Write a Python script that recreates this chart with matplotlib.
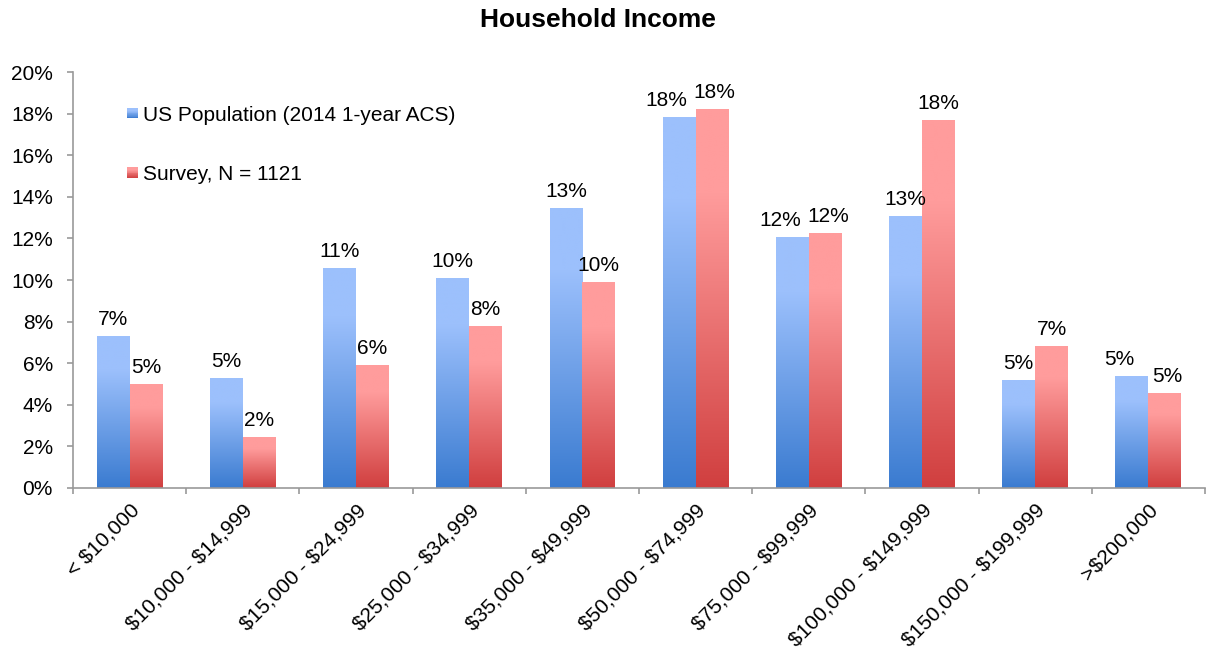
import numpy as np
import matplotlib
matplotlib.use('Agg')
import matplotlib.pyplot as plt
from matplotlib.colors import LinearSegmentedColormap
from matplotlib.patches import Rectangle
from matplotlib.legend_handler import HandlerBase

# Data (percent of households)
categories = ['< $10,000', '$10,000 - $14,999', '$15,000 - $24,999',
              '$25,000 - $34,999', '$35,000 - $49,999', '$50,000 - $74,999',
              '$75,000 - $99,999', '$100,000 - $149,999', '$150,000 - $199,999',
              '>$200,000']
us_pop = [7.31, 5.29, 10.58, 10.1, 13.45, 17.84, 12.07, 13.06, 5.19, 5.38]
survey = [5.0, 2.45, 5.91, 7.79, 9.9, 18.22, 12.26, 17.69, 6.83, 4.57]
series_names = ['US Population (2014 1-year ACS)', 'Survey, N = 1121']

plt.rcParams['font.family'] = ['Liberation Sans', 'DejaVu Sans']
plt.rcParams['text.parse_math'] = False

blue_light, blue_dark = '#9cc0fc', '#3a7bd0'
red_light, red_dark = '#ff9c9c', '#d03f3f'

# top of bar light, bottom dark; flat light band at the top
def ramp(light, dark):
    return LinearSegmentedColormap.from_list('g', [(0.0, light), (0.22, light), (1.0, dark)])

cmaps = [ramp(blue_light, blue_dark), ramp(red_light, red_dark)]
grad = np.linspace(0, 1, 256).reshape(-1, 1)

fig = plt.figure(figsize=(12.21, 6.62), dpi=100, facecolor='white')
ax = fig.add_axes([0.0598, 0.263, 0.927, 0.628])

fs = 15
x = np.arange(len(categories))
w = 0.29
axis_grey = '#999999'

for k, (vals, other, off, cm) in enumerate(((us_pop, survey, -w / 2, cmaps[0]),
                                             (survey, us_pop, w / 2, cmaps[1]))):
    bars = ax.bar(x + off, vals, w, facecolor='none', edgecolor='none', zorder=2)
    for b, v, o in zip(bars, vals, other):
        x0 = b.get_x()
        im = ax.imshow(grad, cmap=cm, aspect='auto', origin='upper',
                       extent=(x0, x0 + w, 0, v), zorder=2, interpolation='bilinear')
        im.set_clip_path(b)
        # push the pair of labels apart when they sit at nearly the same height
        dx = 0
        if abs(v - o) < 1.2:
            dx = -9 if k == 0 else 2
        ax.annotate('%d%%' % int(round(v)), (x0 + w / 2, v), xytext=(dx, 5),
                    textcoords='offset points', ha='center', va='bottom',
                    fontsize=fs, color='black', zorder=3)

ax.set_xlim(-0.5, len(categories) - 0.5)
ax.set_ylim(0, 20)
ax.set_yticks(np.arange(0, 21, 2))
ax.set_yticklabels(['%d%%' % t for t in range(0, 21, 2)], fontsize=fs)
ax.set_xticks(x)
ax.set_xticklabels(categories, rotation=45, ha='right', rotation_mode='anchor', fontsize=fs)
ax.set_xticks(np.arange(-0.5, len(categories) + 0.5, 1), minor=True)
ax.tick_params(axis='x', which='major', length=0, pad=9)
ax.tick_params(axis='x', which='minor', length=4.5, color=axis_grey, width=1.2, direction='out')
ax.tick_params(axis='y', length=4.5, color=axis_grey, width=1.2, pad=10)

for s in ('top', 'right'):
    ax.spines[s].set_visible(False)
for s in ('left', 'bottom'):
    ax.spines[s].set_color(axis_grey)
    ax.spines[s].set_linewidth(1.2)


class GradHandler(HandlerBase):
    def __init__(self, light, dark):
        super().__init__()
        self.light, self.dark = light, dark

    def create_artists(self, legend, orig_handle, xdescent, ydescent, width, height, fontsize, trans):
        cm = ramp(self.light, self.dark)
        n = 12
        arts = []
        for i in range(n):
            c = cm(1 - (i + 0.5) / n)
            arts.append(Rectangle((-xdescent, -ydescent + height * i / n), width, height / n + 0.2,
                                  facecolor=c, edgecolor='none', transform=trans))
        return arts


h1 = Rectangle((0, 0), 1, 1)
h2 = Rectangle((0, 0), 1, 1)
ax.legend([h1, h2], series_names, loc='upper left', bbox_to_anchor=(0.040, 0.939),
          frameon=False, fontsize=fs, handlelength=0.55, handleheight=0.35,
          handletextpad=0.25, labelspacing=1.93, borderaxespad=0,
          handler_map={h1: GradHandler(blue_light, blue_dark),
                       h2: GradHandler(red_light, red_dark)})

fig.text(0.49, 0.988, 'Household Income', ha='center', va='top', fontsize=19, fontweight='bold')

fig.savefig('out.png', dpi=100, facecolor='white')
